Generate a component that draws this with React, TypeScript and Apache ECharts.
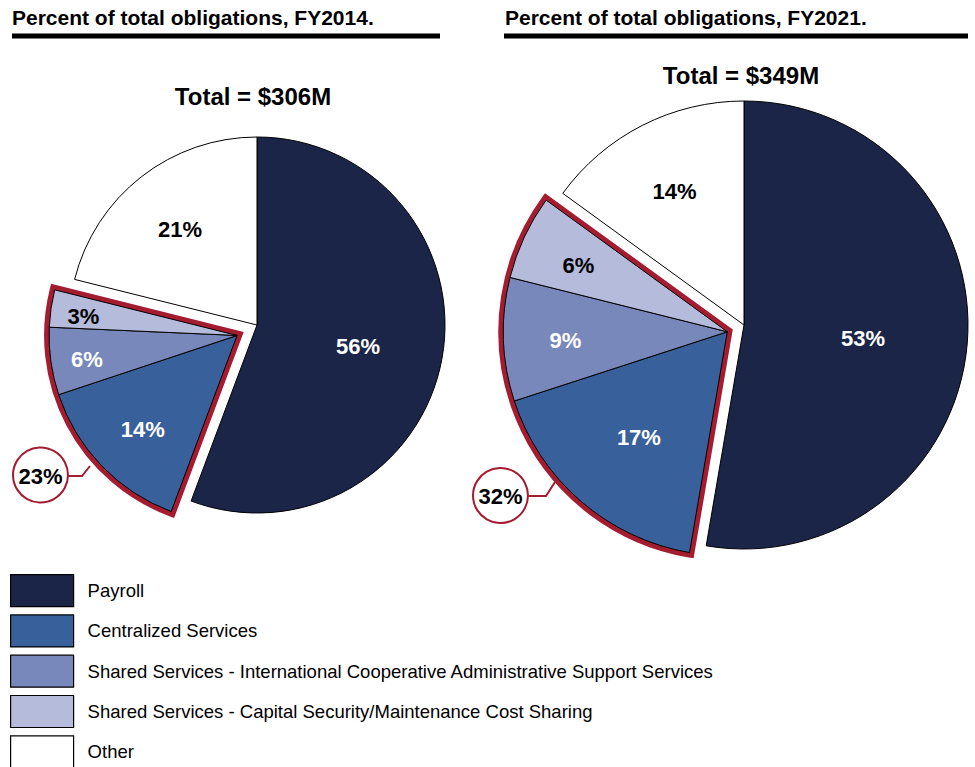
import React, { useEffect, useRef } from "react";
import * as echarts from "echarts";

// ---- data ----
const categories = [
  "Payroll",
  "Centralized Services",
  "Shared Services - International Cooperative Administrative Support Services",
  "Shared Services - Capital Security/Maintenance Cost Sharing",
  "Other",
];
// slice shares as drawn (%)
const fy2014Share = [55.7, 14.2, 5.8, 3.2, 21.1];
const fy2021Share = [52.7, 17.3, 8.9, 6.1, 15.0];
// percentages printed on the slices
const fy2014Label = [56, 14, 6, 3, 21];
const fy2021Label = [53, 17, 9, 6, 14];
const groupTotals = [23, 32];
const panelTitles = ["Percent of total obligations, FY2014.", "Percent of total obligations, FY2021."];
const totalLabels = ["Total = $306M", "Total = $349M"];
const groupIdx = [1, 2, 3]; // exploded group (Centralized + Shared Services)

// ---- styles ----
const colors = ["#1a2548", "#38609b", "#7888ba", "#b5bbdb", "#ffffff"];
const labelColors = ["#ffffff", "#ffffff", "#ffffff", "#000000", "#000000"];
const RED = "#a51b2f";
const FONT = "'Liberation Sans', Arial, Helvetica, sans-serif";
const TRANSPARENT = "rgba(0,0,0,0)";

type Panel = {
  vals: number[];
  labels: number[];
  center: [number, number];
  offset: number;
  r: number;
  labelFrac: number[];
};

const panels: Panel[] = [
  { vals: fy2014Share, labels: fy2014Label, center: [257, 325], offset: 22.5, r: 188, labelFrac: [0.53, 0.68, 0.79, 0.81, 0.65] },
  { vals: fy2021Share, labels: fy2021Label, center: [744, 325], offset: 18, r: 224, labelFrac: [0.52, 0.59, 0.71, 0.72, 0.67] },
];

function midAngles(vals: number[]) {
  const total = vals.reduce((a, b) => a + b, 0);
  let acc = 0;
  return vals.map((v) => {
    const a = ((acc + v / 2) / total) * Math.PI * 2;
    acc += v;
    return a;
  });
}

function buildSeries(p: Panel, k: number) {
  const total = p.vals.reduce((a, b) => a + b, 0);
  const mids = midAngles(p.vals);
  const before = p.vals.slice(0, groupIdx[0]).reduce((a, b) => a + b, 0);
  const gSum = groupIdx.reduce((s, i) => s + p.vals[i], 0);
  const gMid = ((before + gSum / 2) / total) * Math.PI * 2;
  const gCenter: [number, number] = [
    p.center[0] + p.offset * Math.sin(gMid),
    p.center[1] - p.offset * Math.cos(gMid),
  ];
  const labelFor = (i: number) => {
    const a = mids[i];
    const d = (p.labelFrac[i] - 0.5) * p.r;
    return {
      show: true,
      position: "inside",
      formatter: p.labels[i] + "%",
      color: labelColors[i],
      fontSize: 22,
      fontWeight: "bold",
      fontFamily: FONT,
      offset: [d * Math.sin(a), -d * Math.cos(a) + 3],
    };
  };
  const common = {
    type: "pie",
    radius: p.r,
    startAngle: 90,
    clockwise: true,
    avoidLabelOverlap: false,
    labelLine: { show: false },
    emphasis: { disabled: true, scale: false },
    silent: true,
    animation: false,
  };
  const isGroup = (i: number) => groupIdx.indexOf(i) >= 0;
  const main = {
    ...common,
    name: "main" + k,
    center: p.center,
    data: categories.map((n, i) => ({
      name: n,
      value: p.vals[i],
      itemStyle: isGroup(i)
        ? { color: TRANSPARENT, borderWidth: 0 }
        : { color: colors[i], borderColor: "#000", borderWidth: 1, borderJoin: "miter" },
      label: isGroup(i) ? { show: false } : labelFor(i),
    })),
  };
  const outline = {
    ...common,
    name: "outline" + k,
    center: gCenter,
    data: [
      { name: "o-before" + k, value: before, itemStyle: { color: TRANSPARENT, borderWidth: 0 }, label: { show: false } },
      {
        name: "o-group" + k,
        value: gSum,
        itemStyle: { color: TRANSPARENT, borderColor: RED, borderWidth: 10, borderJoin: "miter", borderMiterLimit: 10 },
        label: { show: false },
      },
      { name: "o-after" + k, value: total - before - gSum, itemStyle: { color: TRANSPARENT, borderWidth: 0 }, label: { show: false } },
    ],
  };
  const group = {
    ...common,
    name: "group" + k,
    center: gCenter,
    data: categories.map((n, i) => ({
      name: n,
      value: p.vals[i],
      itemStyle: !isGroup(i)
        ? { color: TRANSPARENT, borderWidth: 0 }
        : { color: colors[i], borderColor: "#000", borderWidth: 1, borderJoin: "miter" },
      label: !isGroup(i) ? { show: false } : labelFor(i),
    })),
  };
  return [main, outline, group];
}

export default function App() {
  const ref = useRef<HTMLDivElement>(null);
  useEffect(() => {
    if (!ref.current) return;
    const chart = echarts.init(ref.current, undefined, { renderer: "svg" });
    const series = panels.flatMap((p, k) => buildSeries(p, k));

    const callouts = [
      { c: [40.5, 475], pts: [[68, 476], [82, 476], [90, 466]] },
      { c: [500.5, 495.5], pts: [[528, 496], [546, 496], [555, 482]] },
    ];

    const graphic: any[] = [];
    const titleX = [12, 505];
    const lineSpans = [[12, 440], [504, 968]];
    const totalPos = [[253, 96], [741, 75]];
    panels.forEach((p, k) => {
      graphic.push({
        type: "text",
        left: titleX[k],
        top: 7,
        style: { text: panelTitles[k], font: `bold 21px ${FONT}`, fill: "#000" },
      });
      graphic.push({
        type: "rect",
        shape: { x: lineSpans[k][0], y: 33.5, width: lineSpans[k][1] - lineSpans[k][0], height: 5 },
        style: { fill: "#000" },
      });
      graphic.push({
        type: "text",
        x: totalPos[k][0],
        y: totalPos[k][1],
        style: {
          text: totalLabels[k],
          font: `bold 24px ${FONT}`,
          fill: "#000",
          align: "center",
          verticalAlign: "middle",
        },
      });
      const co = callouts[k];
      graphic.push({
        type: "polyline",
        shape: { points: co.pts },
        style: { stroke: RED, lineWidth: 2, fill: null },
        z: 10,
      });
      graphic.push({
        type: "circle",
        shape: { cx: co.c[0], cy: co.c[1], r: 27.5 },
        style: { fill: "#fff", stroke: RED, lineWidth: 2 },
        z: 10,
      });
      graphic.push({
        type: "text",
        x: co.c[0],
        y: co.c[1] + 1,
        style: {
          text: groupTotals[k] + "%",
          font: `bold 22px ${FONT}`,
          fill: "#000",
          align: "center",
          verticalAlign: "middle",
        },
        z: 11,
      });
    });

    chart.setOption({
      animation: false,
      backgroundColor: "#ffffff",
      legend: {
        orient: "vertical",
        left: 10,
        top: 574,
        height: 230,
        padding: 0,
        itemWidth: 63,
        itemHeight: 32,
        itemGap: 7.1,
        icon: "rect",
        selectedMode: false,
        textStyle: { fontSize: 18.5, color: "#000", fontFamily: FONT, padding: [0, 0, 0, 9] },
        data: categories.map((n, i) => ({
          name: n,
          itemStyle: { color: colors[i], borderColor: "#000", borderWidth: 1.2 },
        })),
      },
      graphic,
      series,
    });
    return () => chart.dispose();
  }, []);
  return (
    <div
      ref={ref}
      style={{ position: "fixed", left: 0, top: 0, width: 975, height: 767, background: "#fff" }}
    />
  );
}
